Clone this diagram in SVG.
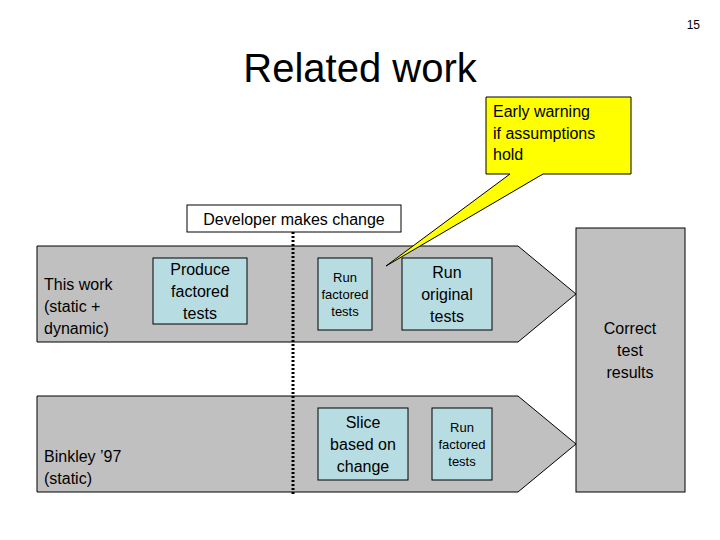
<svg xmlns="http://www.w3.org/2000/svg" width="720" height="540" viewBox="0 0 720 540">
<style>
.a{fill:#c0c0c0;stroke:#000;stroke-width:1}
.b{fill:#b7dde2;stroke:#000;stroke-width:1}
text{font-family:"Liberation Sans",Arial,sans-serif;fill:#000}
.m{font-size:16px;text-anchor:middle}
.s{font-size:13px;text-anchor:middle}
.l{font-size:16px}
</style>
<rect width="720" height="540" fill="#fff"/>
<text x="700" y="29" font-size="12" text-anchor="end">15</text>
<text x="360" y="82" font-size="40" text-anchor="middle">Related work</text>
<g id="lanes">
<polygon class="a" points="37,246 518,246 576,294 518,342 37,342"/>
<polygon class="a" points="37,396 518,396 576,444 518,492 37,492"/>
</g>
<g id="correct"><rect class="a" x="576" y="228" width="109" height="264"/>
<text class="m" x="630" y="334">Correct</text><text class="m" x="630" y="356">test</text><text class="m" x="630" y="378">results</text></g>
<g id="thiswork"><text class="l" x="44" y="290">This work</text><text class="l" x="44" y="312">(static +</text><text class="l" x="44" y="334">dynamic)</text></g>
<g id="binkley"><text class="l" x="44" y="462">Binkley ’97</text><text class="l" x="44" y="484">(static)</text></g>
<g id="connectors"><line x1="293" y1="232" x2="293" y2="496" stroke="#000" stroke-width="3" stroke-dasharray="2,2"/></g>
<g id="devchange"><rect x="187" y="205" width="214" height="27" fill="#fff" stroke="#000"/><text class="m" x="294" y="225">Developer makes change</text></g>
<g id="produce"><rect class="b" x="153" y="258" width="94" height="66"/>
<text class="m" x="200" y="275">Produce</text><text class="m" x="200" y="297">factored</text><text class="m" x="200" y="319">tests</text></g>
<g id="runfact1"><rect class="b" x="318" y="258" width="54" height="72"/>
<text class="s" x="345" y="282">Run</text><text class="s" x="345" y="299">factored</text><text class="s" x="345" y="316">tests</text></g>
<g id="runorig"><rect class="b" x="402" y="258" width="90" height="72"/>
<text class="m" x="447" y="278">Run</text><text class="m" x="447" y="300">original</text><text class="m" x="447" y="322">tests</text></g>
<g id="slice"><rect class="b" x="318" y="408" width="90" height="72"/>
<text class="m" x="363" y="428">Slice</text><text class="m" x="363" y="450">based on</text><text class="m" x="363" y="472">change</text></g>
<g id="runfact2"><rect class="b" x="432" y="408" width="60" height="72"/>
<text class="s" x="462" y="432">Run</text><text class="s" x="462" y="449">factored</text><text class="s" x="462" y="466">tests</text></g>
<g id="callout">
<path d="M486,97 H631 V174 H543 L386,266 L510,174 H486 Z" fill="#ffff00" stroke="#000" stroke-width="1"/>
<text class="l" x="493" y="117">Early warning</text><text class="l" x="493" y="139">if assumptions</text><text class="l" x="493" y="160">hold</text></g>
</svg>
